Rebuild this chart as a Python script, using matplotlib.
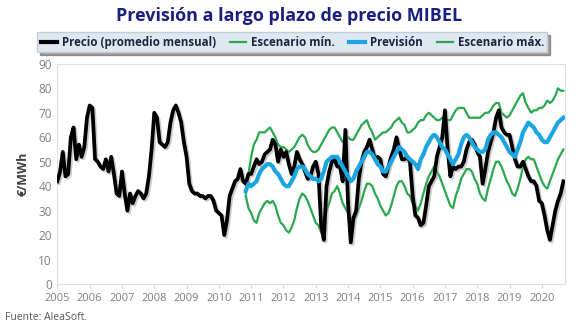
import numpy as np
import matplotlib
matplotlib.use("Agg")
import matplotlib.pyplot as plt
import matplotlib.patheffects as pe
from matplotlib.lines import Line2D

# monthly spot price, Jan 2005 .. Sep 2020
precio = [
    42, 46, 54, 44, 45, 60, 64, 51, 57, 52, 56, 68,   # 2005
    73, 72, 51, 50, 48, 47, 51, 46, 52, 45, 37, 36,   # 2006
    46, 37, 30, 37, 33, 36, 38, 37, 35, 37, 44, 55,   # 2007
    70, 68, 58, 57, 56, 58, 66, 71, 73, 70, 66, 58,   # 2008
    52, 41, 38, 37, 37, 36, 36, 35, 36, 36, 34, 30,   # 2009
    29, 28, 20, 26, 36, 39, 42, 43, 47, 42, 41, 45,   # 2010
    45, 48, 51, 49, 50, 53, 54, 55, 59, 57, 50, 55,   # 2011
    52, 54, 49, 45, 48, 54, 51, 49, 46, 43, 44, 48,   # 2012
    50, 45, 24, 18, 40, 46, 50, 51, 48, 48, 42, 63,   # 2013
    33, 17, 27, 30, 43, 50, 54, 56, 59, 55, 51, 52,   # 2014
    51, 45, 44, 48, 52, 55, 60, 55, 51, 51, 52, 50,   # 2015
    36, 28, 27, 24, 25, 32, 40, 42, 44, 52, 56, 60,   # 2016
    71, 55, 44, 48, 47, 48, 48, 50, 55, 58, 59, 57,   # 2017
    54, 52, 41, 47, 54, 58, 62, 68, 71, 64, 62, 61,   # 2018
    61, 56, 51, 48, 48, 50, 47, 44, 42, 42, 40, 34,   # 2019
    33, 28, 22, 18, 24, 30, 34, 37, 42,               # 2020
]

# forecast scenarios, Nov 2010 .. Sep 2020
esc_max = [
    37, 45,
    52, 57, 59, 62, 62, 62, 63, 64, 62, 60, 57, 56,
    56, 55, 54, 55, 56, 58, 60, 61, 60, 57, 55, 54,
    54, 55, 57, 59, 61, 63, 64, 64, 62, 60, 58, 59,
    60, 59, 59, 61, 63, 65, 66, 67, 64, 62, 59, 60,
    61, 62, 62, 63, 64, 66, 67, 68, 66, 65, 62, 62,
    63, 64, 66, 67, 67, 69, 70, 69, 68, 67, 67, 68,
    68, 67, 67, 69, 71, 72, 72, 72, 70, 68, 68, 68,
    68, 68, 69, 70, 70, 71, 73, 74, 74, 70, 69, 68,
    69, 71, 73, 75, 77, 78, 74, 72, 70, 71, 71, 72,
    72, 73, 75, 74, 75, 77, 80, 79, 79,
]

prevision = [
    38, 41,
    40, 41, 42, 45, 47, 48, 49, 49, 48, 46, 45, 43,
    41, 40, 40, 42, 44, 47, 48, 48, 47, 45, 44, 43,
    43, 42, 43, 46, 50, 51, 52, 52, 52, 50, 48, 46,
    44, 42, 43, 46, 48, 50, 52, 54, 54, 53, 51, 49,
    48, 46, 46, 48, 50, 52, 54, 56, 55, 54, 52, 51,
    50, 49, 47, 51, 53, 56, 58, 60, 61, 60, 58, 56,
    55, 53, 51, 49, 51, 53, 57, 60, 61, 60, 58, 56,
    55, 54, 54, 55, 59, 61, 62, 62, 61, 60, 58, 56,
    54, 53, 52, 55, 58, 62, 64, 66, 65, 64, 62, 61,
    59, 58, 58, 60, 62, 64, 66, 67, 68,
]

esc_min = [
    36, 31,
    29, 26, 25, 29, 31, 33, 34, 33, 34, 32, 28, 25,
    24, 22, 21, 23, 26, 31, 35, 37, 36, 34, 31, 28,
    25, 24, 21, 25, 30, 33, 37, 38, 40, 37, 33, 31,
    29, 27, 26, 28, 31, 34, 38, 41, 41, 40, 37, 35,
    32, 30, 28, 29, 32, 36, 40, 42, 42, 40, 37, 36,
    33, 32, 30, 33, 37, 41, 44, 46, 48, 46, 44, 41,
    38, 35, 32, 31, 36, 39, 43, 45, 47, 47, 46, 43,
    41, 37, 35, 34, 39, 43, 47, 50, 50, 48, 45, 42,
    40, 37, 36, 39, 43, 48, 51, 52, 51, 51, 48, 45,
    42, 40, 39, 42, 45, 48, 51, 53, 55,
]

years = list(range(2005, 2021))
x_precio = 2005 + np.arange(len(precio)) / 12
x_prev = 2005 + (70 + np.arange(len(prevision))) / 12

NAVY = "#1b1f80"
GREEN = "#2aa84e"
BLUE = "#1ba6e3"
GREY = "#7f7f7f"

plt.rcParams["font.family"] = ["Open Sans", "DejaVu Sans"]

fig = plt.figure(figsize=(5.79, 3.31), dpi=100)
ax = fig.add_axes([0.098, 0.142, 0.878, 0.665])

shadow = [pe.SimpleLineShadow(offset=(1.2, -1.2), shadow_color="#999999", alpha=0.5), pe.Normal()]

ax.plot(x_prev, esc_min, color=GREEN, lw=1.6, zorder=2)
ax.plot(x_prev, esc_max, color=GREEN, lw=1.6, zorder=2)
ax.plot(x_precio, precio, color="black", lw=2.7, zorder=3, path_effects=shadow)
ax.plot(x_prev, prevision, color=BLUE, lw=3.0, zorder=4)

ax.set_xlim(2004.98, 2020.72)
ax.set_ylim(0, 90)
ax.set_yticks(range(0, 91, 10))
ax.set_xticks(years)
ax.tick_params(axis="x", colors=GREY, labelsize=8, length=3, color="#d9d9d9")
ax.tick_params(axis="y", colors=GREY, labelsize=8.5, length=0)
for s in ax.spines.values():
    s.set_color("#e0e0e0")
    s.set_linewidth(0.8)

ax.set_ylabel("€/MWh", fontsize=9, fontweight="bold", color="#404040", labelpad=6)

fig.text(0.5, 0.953, "Previsión a largo plazo de precio MIBEL", ha="center", va="center",
         fontsize=13, fontweight="bold", color=NAVY)

handles = [
    Line2D([], [], color="black", lw=3),
    Line2D([], [], color=GREEN, lw=1.6),
    Line2D([], [], color=BLUE, lw=3),
    Line2D([], [], color=GREEN, lw=1.6),
]
labels = ["Precio (promedio mensual)", "Escenario mín.", "Previsión", "Escenario máx."]
leg = fig.legend(handles, labels, loc="center", bbox_to_anchor=(0.505, 0.872), ncol=4,
                 frameon=True, fancybox=False, shadow=True,
                 handlelength=1.4, handletextpad=0.4, columnspacing=1.25,
                 borderpad=0.3, prop={"weight": "bold", "size": 8.3})
leg.get_frame().set_facecolor("#dfe7f0")
leg.get_frame().set_edgecolor("#c5ccd6")
for t in leg.get_texts():
    t.set_color("#1f2440")

fig.text(0.008, 0.025, "Fuente: AleaSoft.", fontsize=7.5, color="#555555", ha="left", va="bottom")

fig.savefig("out.png", dpi=100, facecolor="white")
